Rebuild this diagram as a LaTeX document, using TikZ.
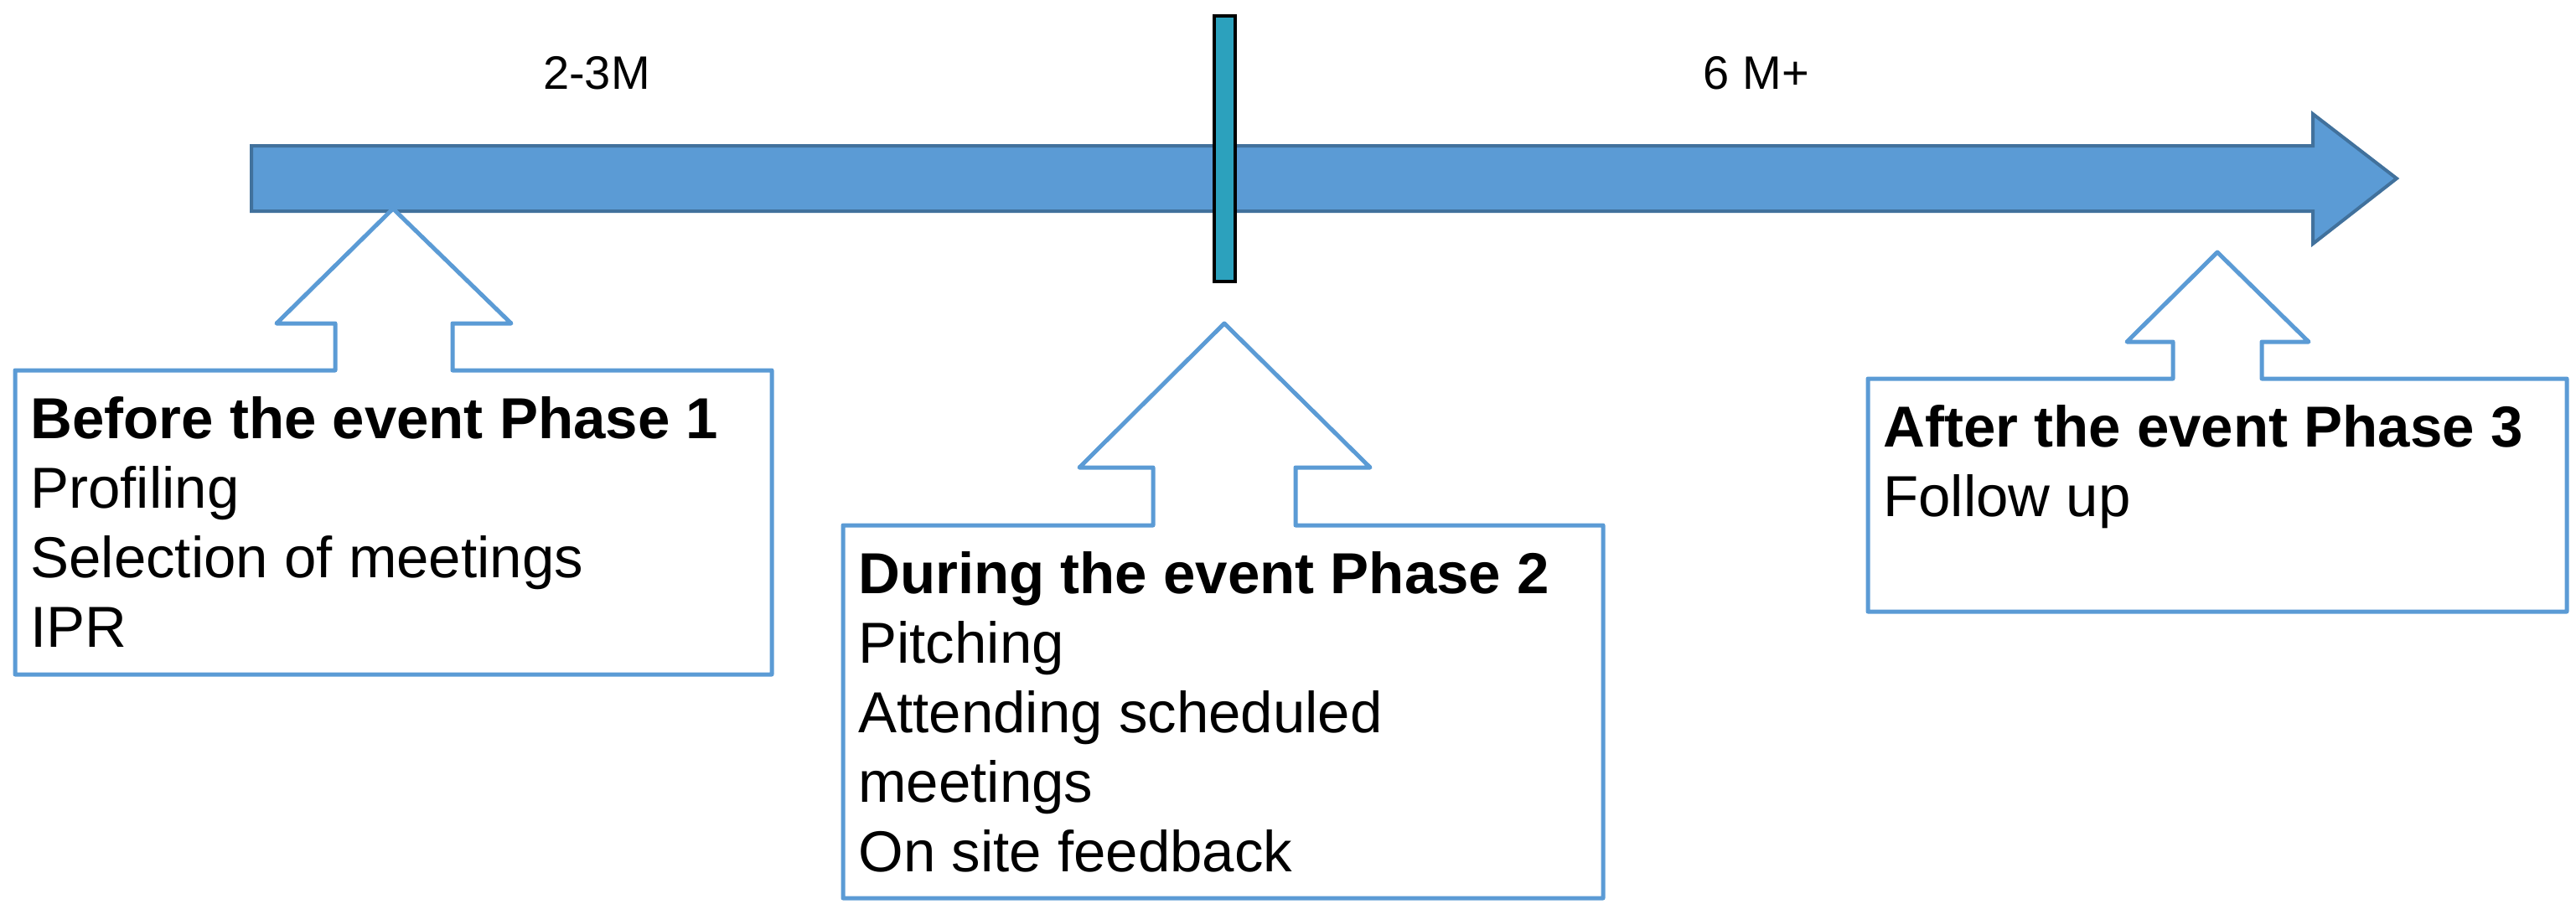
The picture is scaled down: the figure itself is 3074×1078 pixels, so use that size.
\documentclass[tikz,border=0pt]{standalone}
\usepackage{fontspec}
\setmainfont{Liberation Sans}
\definecolor{shaftfill}{HTML}{5B9BD5}
\definecolor{shaftline}{HTML}{41719C}
\definecolor{barfill}{HTML}{2CA1BD}
\definecolor{calloutline}{HTML}{5B9BD5}
\tikzset{
  timeline/.style={fill=shaftfill,draw=shaftline,line width=2pt,line join=miter},
  marker/.style={fill=barfill,draw=black,line width=1.7pt},
  callout/.style={fill=white,draw=calloutline,line width=2.5pt,line join=round},
  linetext/.style={anchor=base west,inner sep=0pt,font=\fontsize{34.5pt}{42pt}\selectfont},
  headtext/.style={linetext,font=\fontsize{34.5pt}{42pt}\selectfont\bfseries},
  spanlabel/.style={anchor=base,inner sep=0pt,font=\fontsize{28pt}{34pt}\selectfont}
}
\begin{document}
\begin{tikzpicture}[x=0.5pt,y=-0.5pt]
\useasboundingbox (0,0) rectangle (3074,1078);
% timeline arrow
\draw[timeline] (300,174) -- (2760,174) -- (2760,136) -- (2860,213) -- (2760,291) -- (2760,252) -- (300,252) -- cycle;
% milestone bar
\draw[marker] (1449,19) rectangle (1474,336);
% span labels
\node[spanlabel] (lblA) at (712,106) {2-3M};
\node[spanlabel] (lblB) at (2096,106) {6 M+};
% callout 1
\draw[callout] (18,442) -- (400,442) -- (400,386) -- (330,386) -- (469,249) -- (610,386) -- (540,386) -- (540,442) -- (921,442) -- (921,805) -- (18,805) -- cycle;
% callout 2
\draw[callout] (1006,627) -- (1376,627) -- (1376,558) -- (1288,558) -- (1461,386) -- (1635,558) -- (1546,558) -- (1546,627) -- (1913,627) -- (1913,1072) -- (1006,1072) -- cycle;
% callout 3
\draw[callout] (2229,452) -- (2593,452) -- (2593,408) -- (2538,408) -- (2646,301) -- (2755,408) -- (2699,408) -- (2699,452) -- (3063,452) -- (3063,730) -- (2229,730) -- cycle;
% texts box 1
\node[headtext] (a1) at (36,523) {Before the event Phase 1};
\node[linetext] (a2) at (36,606) {Profiling};
\node[linetext] (a3) at (36,689) {Selection of meetings};
\node[linetext] (a4) at (36,772) {IPR};
% texts box 2
\node[headtext] (b1) at (1024,708) {During the event Phase 2};
\node[linetext] (b2) at (1024,791) {Pitching};
\node[linetext] (b3) at (1024,874) {Attending scheduled};
\node[linetext] (b4) at (1024,957) {meetings};
\node[linetext] (b5) at (1024,1040) {On site feedback};
% texts box 3
\node[headtext] (c1) at (2247,533) {After the event Phase 3};
\node[linetext] (c2) at (2247,616) {Follow up};
\end{tikzpicture}
\end{document}
